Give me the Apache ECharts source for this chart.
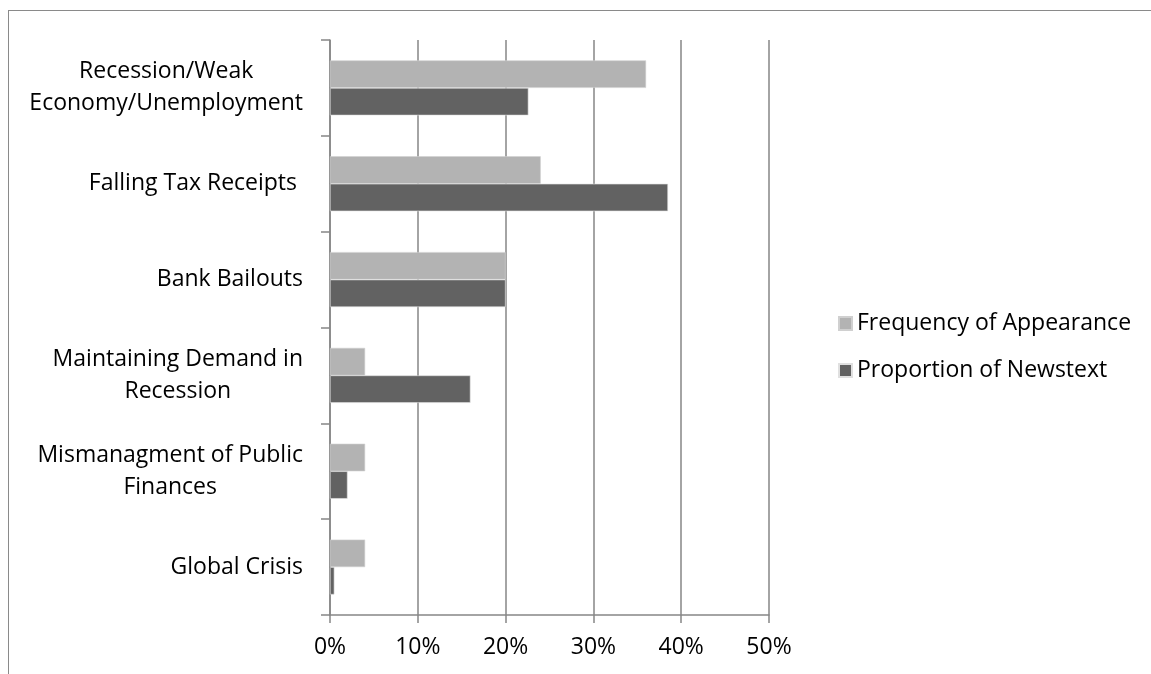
<!DOCTYPE html>
<html>
<head>
<meta charset="utf-8">
<script src="https://cdn.jsdelivr.net/npm/echarts@6/dist/echarts.min.js"></script>
<style>
  html, body { margin: 0; padding: 0; background: #fff; }
  #wrap { position: relative; width: 1151px; height: 674px; overflow: hidden; }
  #frame { position: absolute; left: 8px; top: 10px; width: 1200px; height: 700px; border-left: 1.5px solid #8a8a8a; border-top: 1.5px solid #8a8a8a; box-sizing: border-box; }
  #chart { position: absolute; left: 0; top: 0; width: 1151px; height: 674px; }
</style>
</head>
<body>
<div id="wrap">
  <div id="frame"></div>
  <div id="chart"></div>
</div>
<script>
const categories = [
  'Recession/Weak\nEconomy/Unemployment',
  'Falling Tax Receipts ',
  'Bank Bailouts',
  'Maintaining Demand in\nRecession',
  'Mismanagment of Public\nFinances',
  'Global Crisis'
];
const seriesNames = ['Frequency of Appearance', 'Proportion of Newstext'];
const frequencyOfAppearance = [36, 24, 20, 4, 4, 4];
const proportionOfNewstext = [22.6, 38.5, 20, 16, 2, 0.5];
const xTicks = { min: 0, max: 50, interval: 10 };

const FONT = 'Open Sans';
const chart = echarts.init(document.getElementById('chart'), null, { renderer: 'canvas' });
chart.setOption({
  backgroundColor: 'transparent',
  animation: false,
  textStyle: { fontFamily: FONT },
  grid: { left: 330, right: 382, top: 40, bottom: 59, containLabel: false },
  legend: {
    orient: 'vertical',
    left: 833,
    top: 307,
    itemWidth: 13,
    itemHeight: 13,
    itemGap: 24,
    icon: 'rect',
    textStyle: { fontFamily: FONT, fontSize: 23, color: '#000', padding: [0, 0, 0, 0] },
    data: seriesNames
  },
  xAxis: {
    type: 'value',
    min: xTicks.min, max: xTicks.max, interval: xTicks.interval,
    axisLine: { show: true, lineStyle: { color: '#868686', width: 1.5 } },
    axisTick: { show: true, length: 8, lineStyle: { color: '#868686', width: 1.5 } },
    splitLine: { show: true, lineStyle: { color: '#868686', width: 1.5 } },
    axisLabel: { formatter: '{value}%', fontFamily: FONT, fontSize: 23, color: '#000', margin: 21 }
  },
  yAxis: {
    type: 'category',
    inverse: true,
    data: categories,
    axisLine: { show: true, lineStyle: { color: '#868686', width: 1.5 } },
    axisTick: { show: true, length: 9, lineStyle: { color: '#868686', width: 1.5 } },
    axisLabel: {
      margin: 27,
      fontFamily: FONT, fontSize: 23, color: '#000',
      lineHeight: 32,
      align: 'right',
      formatter: function (v) {
        return v.split('\n').map(function (s) { return '{c|' + s + '}'; }).join('\n');
      },
      rich: { c: { align: 'center', fontFamily: FONT, fontSize: 23, color: '#000', lineHeight: 32 } }
    }
  },
  series: [
    {
      name: seriesNames[0], type: 'bar', data: frequencyOfAppearance,
      barGap: '0%', barCategoryGap: '42.6%',
      itemStyle: { color: '#b3b3b3', borderColor: '#d0d0d0', borderWidth: 0.6 }
    },
    {
      name: seriesNames[1], type: 'bar', data: proportionOfNewstext,
      barGap: '0%', barCategoryGap: '42.6%',
      itemStyle: { color: '#626262', borderColor: '#e0e0e0', borderWidth: 0.6 }
    }
  ]
});
</script>
</body>
</html>
